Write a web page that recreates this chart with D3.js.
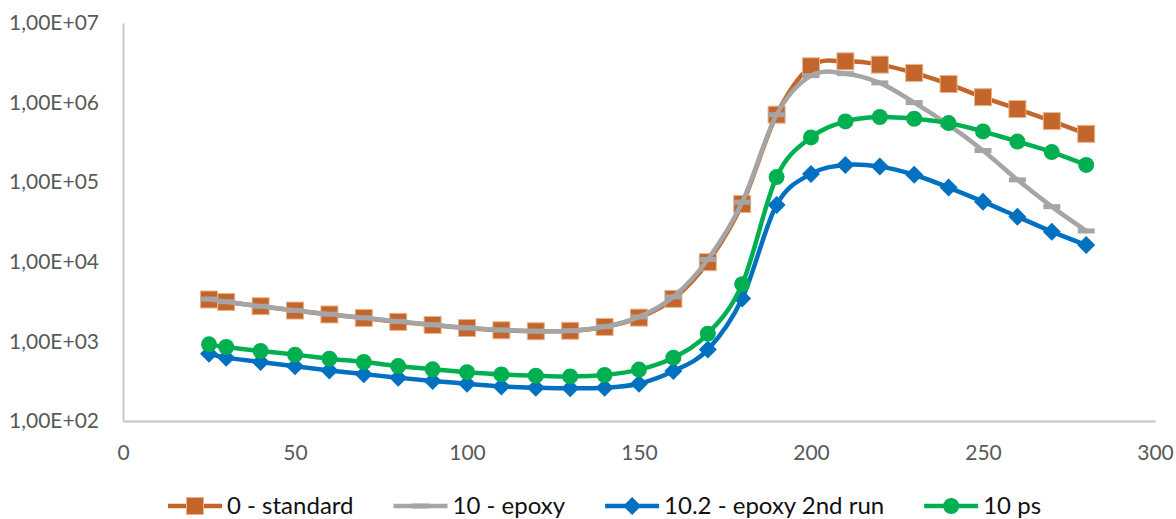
<!DOCTYPE html>
<html>
<head>
<meta charset="utf-8">
<script src="https://cdn.jsdelivr.net/npm/d3@7"></script>
<style>
  html, body { margin: 0; padding: 0; background: #fff; }
  svg { display: block; }
</style>
</head>
<body>
<svg id="chart" width="1176" height="519"></svg>
<script>
// ---------- data ----------
const temperatures = [25, 30, 40, 50, 60, 70, 80, 90, 100, 110, 120, 130, 140, 150, 160, 170, 180, 190, 200, 210, 220, 230, 240, 250, 260, 270, 280];

const standard = [3360, 3130, 2770, 2440, 2180, 1970, 1760, 1610, 1475, 1380, 1340, 1360, 1520, 1990, 3420, 9900, 53300, 705000, 2860000, 3300000, 3000000, 2360000, 1710000, 1170000, 830000, 586000, 405000];
const epoxy = [3400, 3150, 2760, 2450, 2200, 1980, 1780, 1620, 1480, 1390, 1345, 1365, 1530, 2030, 3630, 10700, 56000, 705000, 2180000, 2310000, 1770000, 1000000, 525000, 250000, 107000, 49300, 24400];
const epoxy2ndRun = [702, 625, 551, 486, 432, 388, 350, 318, 294, 272, 262, 257, 262, 294, 424, 789, 3460, 51800, 127000, 165000, 157000, 124000, 85600, 57000, 36900, 23900, 16200];
const ps10 = [918, 851, 757, 682, 607, 551, 490, 446, 411, 385, 371, 363, 378, 442, 625, 1250, 5240, 116000, 365000, 580000, 659000, 627000, 553000, 434000, 324000, 239000, 165000];

const seriesNames = ["0 - standard", "10 - epoxy", "10.2 - epoxy 2nd run", "10 ps"];
const xTickValues = [0, 50, 100, 150, 200, 250, 300];
const yTickValues = [1e2, 1e3, 1e4, 1e5, 1e6, 1e7];
const yTickLabels = ["1,00E+02", "1,00E+03", "1,00E+04", "1,00E+05", "1,00E+06", "1,00E+07"];

// ---------- styling ----------
const seriesStyle = [
  { color: "#C4662B", marker: "square", edge: "#E8B48F" },
  { color: "#A5A5A5", marker: "dash", edge: null },
  { color: "#0070C0", marker: "diamond", edge: null },
  { color: "#00B050", marker: "circle", edge: null }
];
const seriesValues = [standard, epoxy, epoxy2ndRun, ps10];

const svg = d3.select("#chart");
svg.append("rect").attr("width", 1176).attr("height", 519).attr("fill", "#fff");

const plotLeft = 123, plotRight = 1155, plotTop = 23, plotBottom = 421;
const x = d3.scaleLinear().domain([0, 300]).range([plotLeft, plotRight]);
const y = d3.scaleLog().domain([1e2, 1e7]).range([plotBottom, plotTop]);

// axes
const yAxis = d3.axisLeft(y).tickValues(yTickValues)
  .tickFormat((d, i) => yTickLabels[i]).tickSizeInner(0).tickSizeOuter(0).tickPadding(24);
const xAxis = d3.axisBottom(x).tickValues(xTickValues)
  .tickFormat(d => String(d)).tickSizeInner(0).tickSizeOuter(0).tickPadding(24);

const gy = svg.append("g").attr("transform", `translate(${plotLeft},0)`).call(yAxis);
const gx = svg.append("g").attr("transform", `translate(0,${plotBottom})`).call(xAxis);
[gy, gx].forEach(g => {
  g.select(".domain").attr("stroke", "#C3C3C3").attr("stroke-width", 1.8);
  g.selectAll("text").attr("fill", "#595959")
    .style("font-family", "Lato, 'Open Sans', sans-serif").style("font-size", "21px");
});

// marker drawing
function drawMarker(g, type, color, edge, cx, cy) {
  if (type === "square") {
    g.append("rect").attr("x", cx - 8.5).attr("y", cy - 8.5).attr("width", 17).attr("height", 17)
      .attr("fill", color).attr("stroke", edge).attr("stroke-width", 1);
  } else if (type === "dash") {
    g.append("rect").attr("x", cx - 8.5).attr("y", cy - 2.5).attr("width", 17).attr("height", 5)
      .attr("fill", color);
  } else if (type === "diamond") {
    g.append("path").attr("d", `M${cx},${cy - 9}L${cx + 9},${cy}L${cx},${cy + 9}L${cx - 9},${cy}Z`)
      .attr("fill", color);
  } else if (type === "circle") {
    g.append("circle").attr("cx", cx).attr("cy", cy).attr("r", 8).attr("fill", color);
  }
}

const line = d3.line().x(d => x(d[0])).y(d => y(d[1])).curve(d3.curveCatmullRom.alpha(0));

seriesValues.forEach((vals, si) => {
  const st = seriesStyle[si];
  const pts = temperatures.map((t, i) => [t, vals[i]]);
  const g = svg.append("g");
  g.append("path").attr("d", line(pts)).attr("fill", "none")
    .attr("stroke", st.color).attr("stroke-width", 4.5)
    .attr("stroke-linejoin", "round").attr("stroke-linecap", "round");
  pts.forEach(p => drawMarker(g, st.marker, st.color, st.edge, x(p[0]), y(p[1])));
});

// legend
const legend = svg.append("g");
let lx = 168;
const ly = 506;
seriesNames.forEach((name, i) => {
  const st = seriesStyle[i];
  const g = legend.append("g");
  g.append("line").attr("x1", lx).attr("x2", lx + 54).attr("y1", ly).attr("y2", ly)
    .attr("stroke", st.color).attr("stroke-width", 4.5);
  drawMarker(g, st.marker, st.color, st.edge, lx + 27, ly);
  const t = g.append("text").attr("x", lx + 59).attr("y", 514)
    .attr("fill", "#111")
    .style("font-family", "Lato, 'Open Sans', sans-serif").style("font-size", "24px")
    .text(name);
  const w = t.node().getComputedTextLength();
  lx = lx + 59 + w + 40;
});
</script>
</body>
</html>
